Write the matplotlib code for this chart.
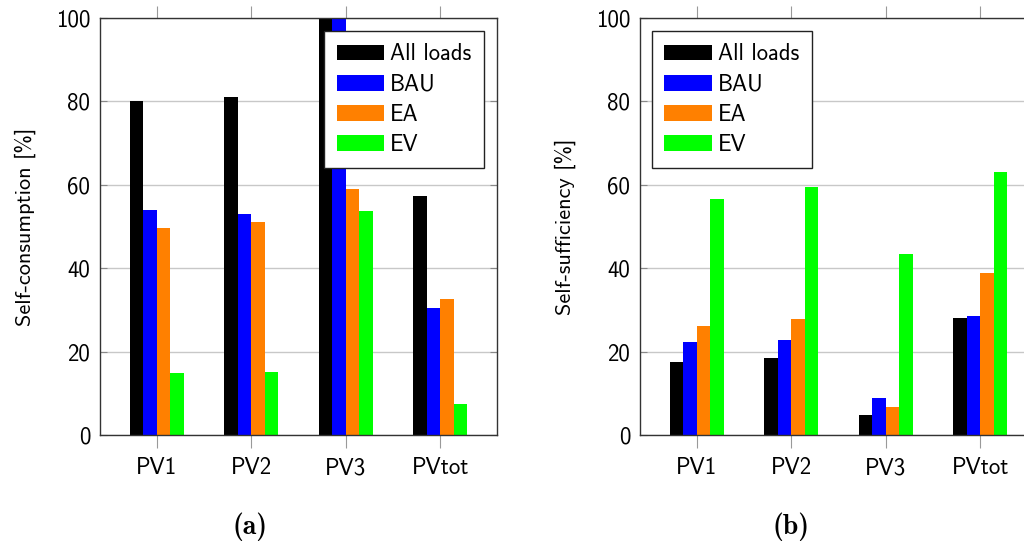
import numpy as np
import matplotlib
matplotlib.use('Agg')
import matplotlib.pyplot as plt

categories = ['PV1', 'PV2', 'PV3', 'PVtot']
series = ['All loads', 'BAU', 'EA', 'EV']
colors = ['#000000', '#0000ff', '#ff8000', '#00ff00']

# self-consumption [%]
sc_all = [80.0, 81.0, 101.0, 57.2]
sc_bau = [54.0, 53.0, 101.0, 30.5]
sc_ea = [49.7, 51.0, 59.1, 32.7]
sc_ev = [14.9, 15.0, 53.6, 7.4]

# self-sufficiency [%]
ss_all = [17.5, 18.4, 4.7, 28.1]
ss_bau = [22.3, 22.8, 8.8, 28.5]
ss_ea = [26.2, 27.9, 6.6, 38.8]
ss_ev = [56.7, 59.4, 43.3, 63.1]

plt.rcParams['font.family'] = ['cmss10', 'DejaVu Sans']
plt.rcParams['axes.unicode_minus'] = False

fig = plt.figure(figsize=(10.24, 5.49), dpi=100)
ax1 = fig.add_axes([0.0977, 0.2077, 0.3877, 0.7595])
ax2 = fig.add_axes([0.625, 0.2077, 0.3877, 0.7595])

x = np.arange(len(categories))
w = 0.143


def draw(ax, data, ylabel, legend_anchor, legend_loc):
    for i, (vals, name, c) in enumerate(zip(data, series, colors)):
        ax.bar(x + (i - 1.5) * w, vals, width=w, color=c, label=name,
               zorder=2, linewidth=0)
    ax.set_xlim(-0.6, 3.6)
    ax.set_ylim(0, 100)
    ax.set_yticks([0, 20, 40, 60, 80, 100])
    ax.set_xticks(x)
    ax.set_xticklabels(categories, fontsize=16.5)
    ax.tick_params(axis='y', labelsize=16.5, direction='in', left=True,
                   right=True, length=5, color='#888888', pad=7)
    ax.tick_params(axis='x', direction='out', top=True, bottom=True,
                   length=9, color='#999999', pad=7)
    ax.grid(axis='y', color='#c8c8c8', lw=1, zorder=0)
    ax.set_axisbelow(True)
    for s in ax.spines.values():
        s.set_color('#333333')
        s.set_linewidth(1.0)
    ax.set_ylabel(ylabel, fontsize=16, labelpad=14)
    leg = ax.legend(loc=legend_loc, bbox_to_anchor=legend_anchor,
                    fontsize=16.3, fancybox=False, edgecolor='#222222',
                    framealpha=1, handlelength=2.1, handleheight=0.7,
                    labelspacing=0.36, borderpad=0.55, handletextpad=0.27,
                    borderaxespad=0)
    leg.get_frame().set_linewidth(1.0)


draw(ax1, [sc_all, sc_bau, sc_ea, sc_ev], 'Self-consumption [%]',
     (0.967, 0.969), 'upper right')
draw(ax2, [ss_all, ss_bau, ss_ea, ss_ev], 'Self-sufficiency [%]',
     (0.030, 0.969), 'upper left')

fig.text(0.244, 0.04, '(a)', fontsize=20, family=['cmb10', 'DejaVu Serif'],
         ha='center', va='center')
fig.text(0.772, 0.04, '(b)', fontsize=20, family=['cmb10', 'DejaVu Serif'],
         ha='center', va='center')

fig.savefig('out.png', dpi=100)
